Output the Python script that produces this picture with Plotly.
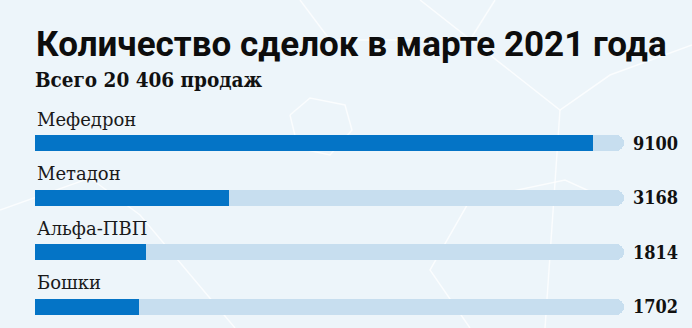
import plotly.graph_objects as go

# ---- data ----
categories = ["Мефедрон", "Метадон", "Альфа-ПВП", "Бошки"]
values = [9100, 3168, 1814, 1702]
value_labels = ["9100", "3168", "1814", "1702"]
title_text = "Количество сделок в марте 2021 года"
subtitle_text = "Всего 20 406 продаж"
TRACK_MAX = 9600

# ---- style ----
BG = "#EDF5FA"
FILL = "#0474C6"
TRACK = "#C7DEEF"
W, H = 692, 328
L, R = 35, 68
ROW_PX = 54.5
FIRST_CENTER_PX = 143
BAR_PX = 16

ypos = list(range(len(categories)))
y_top = -FIRST_CENTER_PX / ROW_PX
y_bot = (H - FIRST_CENTER_PX) / ROW_PX
bw = BAR_PX / ROW_PX

fig = go.Figure()
# background track
fig.add_trace(go.Bar(
    x=[TRACK_MAX] * len(categories), y=ypos, orientation="h", width=bw,
    marker=dict(color=TRACK, cornerradius=BAR_PX / 2, line=dict(width=0)),
    hoverinfo="skip", showlegend=False,
))
# filled part (rounded left end)
fig.add_trace(go.Bar(
    x=values, y=ypos, orientation="h", width=bw,
    marker=dict(color=FILL, cornerradius=BAR_PX / 2, line=dict(width=0)),
    showlegend=False,
))
# square off the right end of the fill
fig.add_trace(go.Bar(
    x=[v / 2 for v in values], base=[v / 2 for v in values], y=ypos,
    orientation="h", width=bw,
    marker=dict(color=FILL, line=dict(width=0)),
    hoverinfo="skip", showlegend=False,
))

annotations = []
for i, (cat, lab) in enumerate(zip(categories, value_labels)):
    annotations.append(dict(
        x=0, y=i - 24 / ROW_PX, xref="x", yref="y", text=cat,
        xanchor="left", yanchor="middle", showarrow=False,
        font=dict(family="DejaVu Serif", size=18, color="#1a1a1a"),
    ))
    annotations.append(dict(
        x=TRACK_MAX, y=i, xref="x", yref="y", text=f"<b>{lab}</b>",
        xanchor="left", yanchor="middle", xshift=7, showarrow=False,
        font=dict(family="DejaVu Serif Condensed, DejaVu Serif", size=18, color="#111111"),
    ))

annotations.append(dict(
    x=0, y=1 - 44 / H, xref="paper", yref="paper", text=f"<b>{title_text}</b>",
    xanchor="left", yanchor="middle", showarrow=False, xshift=-1,
    font=dict(family="Roboto", size=35, color="#0d0d0d"),
))
annotations.append(dict(
    x=0, y=1 - 80 / H, xref="paper", yref="paper", text=f"<b>{subtitle_text}</b>",
    xanchor="left", yanchor="middle", showarrow=False, xshift=-2,
    font=dict(family="DejaVu Serif Condensed, DejaVu Serif", size=20.5, color="#111111"),
))

# faint decorative background lines (pixel coordinates of the page)
def px(x, y):
    return f"{(x - L) / (W - L - R):.4f},{1 - y / H:.4f}"

deco = [
    [(300, 0), (330, 40), (470, 40), (495, 0)],
    [(290, 115), (310, 98), (345, 105), (352, 130), (330, 155), (298, 148), (290, 115)],
    [(420, 0), (560, 110), (610, 75), (692, 45)],
    [(560, 110), (545, 328)],
    [(0, 210), (90, 178), (140, 215), (235, 328)],
    [(620, 205), (565, 180), (470, 200), (430, 270), (470, 328)],
]
shapes = []
for pts in deco:
    path = "M " + " L ".join(px(x, y) for x, y in pts)
    shapes.append(dict(type="path", path=path, xref="paper", yref="paper",
                       layer="below", line=dict(color="rgba(255,255,255,0.75)", width=1.5)))

fig.update_layout(
    width=W, height=H,
    margin=dict(l=L, r=R, t=0, b=0, pad=0),
    paper_bgcolor=BG, plot_bgcolor="rgba(0,0,0,0)",
    barmode="overlay", bargap=0,
    xaxis=dict(range=[0, TRACK_MAX], visible=False, fixedrange=True),
    yaxis=dict(range=[y_bot, y_top], visible=False, fixedrange=True),
    annotations=annotations,
    shapes=shapes,
    showlegend=False,
)

fig.write_html("out.html")
